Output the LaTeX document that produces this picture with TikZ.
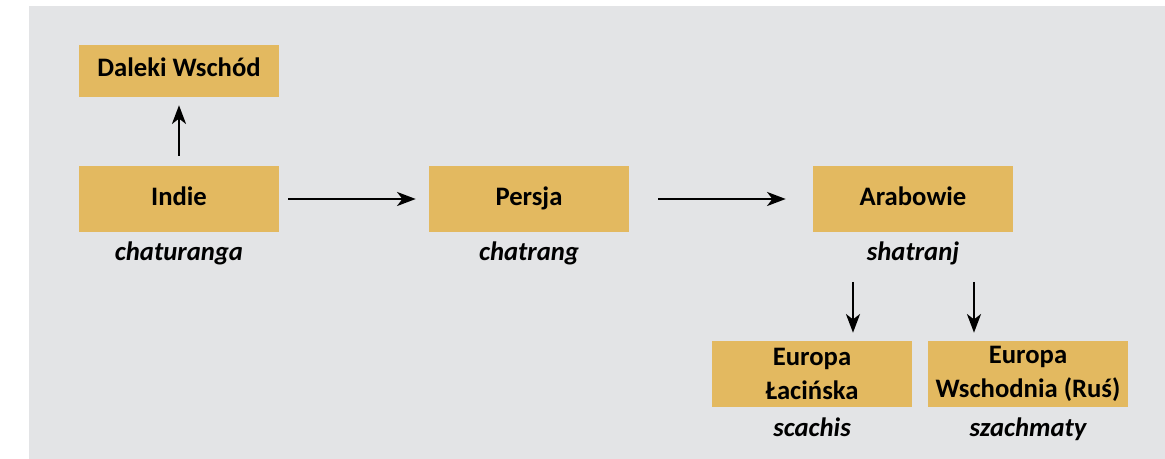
\documentclass[tikz,border=0pt]{standalone}
\usepackage{fontspec}
\setmainfont{Carlito}
\usetikzlibrary{arrows.meta}

\definecolor{tlo}{HTML}{E3E4E6}
\definecolor{zloty}{HTML}{E3B960}

\tikzset{
	box/.style={fill=zloty, minimum width=150pt, minimum height=49.5pt, align=center,
		font=\fontsize{20}{25.5}\selectfont\bfseries, inner sep=0pt},
	jeden/.style={text height=14pt, text depth=4pt},
	lbl/.style={anchor=base, font=\fontsize{20}{24}\selectfont\bfseries\itshape},
	arr/.style={-{Stealth[length=14pt, width=10.5pt, inset=4pt]}, line width=1.8pt}
}

\begin{document}
\begin{tikzpicture}[x=0.75pt, y=-0.75pt]
		\useasboundingbox (0,0) rectangle (1165,459);
		\fill[tlo] (29,6) rectangle (1165,459);

		\node[box, text height=13pt, text depth=5pt, minimum height=39pt] (daleki) at (179,71) {Daleki Wschód};
		\node[box, jeden] (indie) at (179,199) {Indie};
		\node[box, jeden] (persja) at (529,199) {Persja};
		\node[box, jeden] (arab) at (913,199) {Arabowie};
		\node[box] (lac) at (812,374) {Europa\\Łacińska};
		\node[box] (wsch) at (1028,374) {Europa\\Wschodnia (Ruś)};

		\node[lbl] (l1) at (179,261) {chaturanga};
		\node[lbl] (l2) at (529,261) {chatrang};
		\node[lbl] (l3) at (913,261) {shatranj};
		\node[lbl] (l4) at (812,437) {scachis};
		\node[lbl] (l5) at (1028,437) {szachmaty};

		\coordinate (d1) at (853,282);
		\coordinate (d2) at (974,282);

		\draw[arr, shorten <=7.5pt, shorten >=6pt] (indie.north) -- (daleki.south);
		\draw[arr, shorten <=6.75pt, shorten >=9.75pt] (indie.east) -- (persja.west);
		\draw[arr, shorten <=21.75pt, shorten >=20.25pt] (persja.east) -- (arab.west);
		\draw[arr, shorten >=6pt] (d1) -- (d1 |- lac.north);
		\draw[arr, shorten >=6pt] (d2) -- (d2 |- wsch.north);
	\end{tikzpicture}
\end{document}
